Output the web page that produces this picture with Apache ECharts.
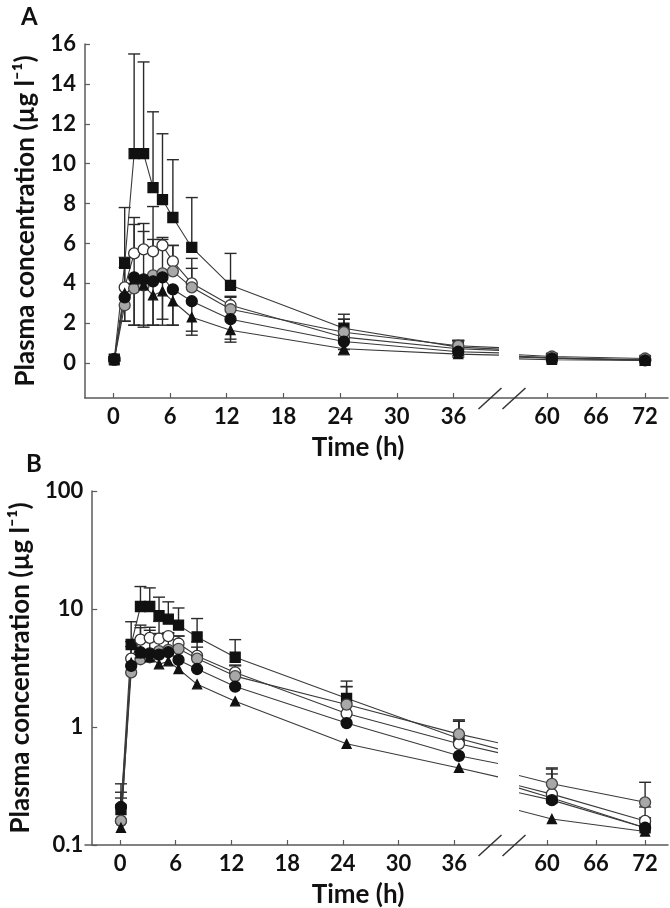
<!DOCTYPE html>
<html><head><meta charset="utf-8">
<script src="https://cdn.jsdelivr.net/npm/echarts@6/dist/echarts.min.js"></script>
<style>html,body{margin:0;padding:0;background:#fff}#c{width:670px;height:908px}</style>
</head><body><div id="c"></div>
<script>
// ---- data ----
const times = [0.1, 1.2, 2.2, 3.2, 4.2, 5.2, 6.3, 8.3, 12.4, 24.4, 36.5, 60.6, 72];
const xTicksLeft = [0, 6, 12, 18, 24, 30, 36];
const xTicksRight = [60, 66, 72];
const yTicksA = [0, 2, 4, 6, 8, 10, 12, 14, 16];
const yTicksB = [0.1, 1, 10, 100];

const squareMean = [0.2, 5.0, 10.5, 10.5, 8.8, 8.2, 7.3, 5.8, 3.9, 1.75, 0.8, 0.25, 0.14];
const squareSdUp = [0.08, 2.8, 5.0, 4.6, 3.8, 3.3, 2.9, 2.5, 1.6, 0.7, 0.35, 0.2, 0.03];
const openMean = [0.16, 3.8, 5.5, 5.7, 5.6, 5.9, 5.1, 4.0, 2.9, 1.3, 0.72, 0.27, 0.16];
const openSdUp = [0.09, 1.0, 1.8, 1.3, 2.25, 0.4, 0.8, 1.25, 0.45, 0.9, 0.4, 0.17, 0.05];
const grayMean = [0.16, 2.9, 3.75, 3.9, 4.4, 4.5, 4.6, 3.8, 2.7, 1.55, 0.87, 0.33, 0.23];
const graySdUp = [0.17, 2.4, 3.2, 2.7, 1.8, 1.7, 1.3, 0.95, 0.6, 0.65, 0.25, 0.07, 0.11];
const dotMean = [0.21, 3.3, 4.3, 4.2, 4.1, 4.3, 3.7, 3.1, 2.2, 1.08, 0.57, 0.24, 0.14];
const dotSdDown = [0.1, 1.2, 2.4, 2.3, 2.2, 2.1, 1.8, 1.5, 1.0, 0.4, 0.2, 0.08, 0.04];
const triMean = [0.14, 3.5, 4.2, 3.9, 3.4, 3.6, 3.1, 2.3, 1.65, 0.72, 0.45, 0.166, 0.13];
const triSdDown = [0.05, 1.4, 2.3, 2.1, 1.5, 1.7, 1.2, 0.9, 0.6, 0.3, 0.15, 0.06, 0.03];

const yTitle = 'Plasma concentration (\u00b5g l\u207b\u00b9)';
const xTitle = 'Time (h)';

// ---- styling ----
const FONT = 'Lato';
const INK = '#111';
const AXIS = '#5a5a5a';
const LINE = '#3a3a3a';

const groups = [
  {mean: squareMean, sd: squareSdUp, dir: 1, symbol: 'rect', size: 10, fill: '#111', border: '#111'},
  {mean: openMean, sd: openSdUp, dir: 1, symbol: 'circle', size: 11, fill: '#fff', border: '#333'},
  {mean: grayMean, sd: graySdUp, dir: 1, symbol: 'circle', size: 11, fill: '#a8a8a8', border: '#444'},
  {mean: dotMean, sd: dotSdDown, dir: -1, symbol: 'circle', size: 11, fill: '#111', border: '#111'},
  {mean: triMean, sd: triSdDown, dir: -1, symbol: 'triangle', size: 9, fill: '#111', border: '#111'}
];

const panels = [
  {top: 44, height: 354, type: 'value', min: -1.75, max: 16, ticks: yTicksA, downBars: true},
  {top: 491, height: 354, type: 'log', min: 0.1, max: 100, ticks: yTicksB, downBars: false}
];
const segs = [
  {left: 85, width: 412, min: -3, max: 40.6, ticks: xTicksLeft},
  {left: 520, width: 148, min: 56.7, max: 74.8, ticks: xTicksRight}
];

const labelStyle = {fontSize: 22, fontWeight: 'bold', fontFamily: FONT, color: INK};

const grid = [], xAxis = [], yAxis = [], series = [];

function errRender(params, api) {
  const x = api.value(0), m = api.value(1), sd = api.value(2), dir = api.value(3);
  const end = dir > 0 ? m + sd : m - sd;
  const p0 = api.coord([x, m]);
  const p1 = api.coord([x, end]);
  const w = 6;
  const st = {stroke: '#2a2a2a', lineWidth: 1.4};
  return {type: 'group', children: [
    {type: 'line', shape: {x1: p0[0], y1: p0[1], x2: p1[0], y2: p1[1]}, style: st},
    {type: 'line', shape: {x1: p1[0] - w, y1: p1[1], x2: p1[0] + w, y2: p1[1]}, style: st}
  ]};
}

panels.forEach((p, pi) => {
  // frame grid: continuous x axis line
  const fi = grid.length;
  grid.push({left: 85, top: p.top, width: 583, height: p.height});
  xAxis.push({gridIndex: fi, type: 'value', min: 0, max: 1,
    axisLine: {show: true, onZero: false, lineStyle: {color: AXIS, width: 1.5}},
    axisTick: {show: false}, axisLabel: {show: false}, splitLine: {show: false}});
  yAxis.push({gridIndex: fi, type: 'value', show: false, axisLine: {onZero: false}});

  segs.forEach((s, si) => {
    const gi = grid.length;
    grid.push({left: s.left, top: p.top, width: s.width, height: p.height});
    xAxis.push({gridIndex: gi, type: 'value', min: s.min, max: s.max,
      axisLine: {show: false, onZero: false},
      axisTick: {show: true, inside: true, length: 5, customValues: s.ticks, lineStyle: {color: AXIS, width: 1.2}},
      axisLabel: Object.assign({show: true, margin: 8, customValues: s.ticks}, labelStyle),
      splitLine: {show: false}});
    const ya = {gridIndex: gi, type: p.type, min: p.min, max: p.max,
      splitLine: {show: false}};
    if (p.type === 'log') ya.logBase = 10;
    if (si === 0) {
      Object.assign(ya, {
        axisLine: {show: true, onZero: false, lineStyle: {color: AXIS, width: 1.5}},
        axisTick: {show: true, inside: true, length: 5, customValues: p.ticks, lineStyle: {color: AXIS, width: 1.2}},
        axisLabel: Object.assign({show: true, margin: 9, customValues: p.ticks}, labelStyle),
        name: yTitle, nameLocation: 'middle', nameRotate: 90, nameGap: 46,
        nameTextStyle: {fontSize: 26, fontWeight: 'bold', fontFamily: FONT, color: INK}
      });
    } else {
      Object.assign(ya, {show: false, axisLine: {show: false, onZero: false}});
    }
    yAxis.push(ya);

    groups.forEach((g) => {
      series.push({
        type: 'line', xAxisIndex: gi, yAxisIndex: gi, clip: true,
        data: times.map((t, i) => [t, g.mean[i]]),
        symbol: g.symbol, symbolSize: g.size,
        lineStyle: {color: LINE, width: 1.1},
        itemStyle: {color: g.fill, borderColor: g.border, borderWidth: 1.3},
        z: 3, silent: true, animation: false
      });
      if (g.dir > 0 || p.downBars) {
        const ed = [];
        times.forEach((t, i) => {
          if (t >= s.min && t <= s.max) ed.push([t, g.mean[i], g.sd[i], g.dir]);
        });
        series.push({
          type: 'custom', xAxisIndex: gi, yAxisIndex: gi,
          renderItem: errRender, data: ed, z: 2, silent: true, animation: false
        });
      }
    });
  });
});

const chart = echarts.init(document.getElementById('c'), null, {renderer: 'canvas'});
chart.setOption({animation: false, backgroundColor: '#fff', grid, xAxis, yAxis, series});

// decorations: axis-break marks, x titles, panel letters
const graphic = [];
panels.forEach((p, pi) => {
  const leftGi = pi * 3 + 1, rightGi = pi * 3 + 2;
  const xEnd = chart.convertToPixel({xAxisIndex: leftGi}, segs[0].max);
  const xStart = chart.convertToPixel({xAxisIndex: rightGi}, segs[1].min);
  const yAx = p.top + p.height;
  [xEnd - 7, xStart - 6].forEach(cx => {
    graphic.push({type: 'line', shape: {x1: cx - 11.5, y1: yAx + 11, x2: cx + 11.5, y2: yAx - 10},
      style: {stroke: '#333', lineWidth: 1.5}, z: 10});
  });
  graphic.push({type: 'text', x: 358, y: yAx + 37,
    style: {text: xTitle, fontSize: 26, fontWeight: 'bold', fontFamily: FONT, fill: INK, align: 'center', verticalAlign: 'top'}});
});
graphic.push({type: 'text', x: 21, y: 5, style: {text: 'A', fontSize: 24, fontWeight: 'bold', fontFamily: FONT, fill: INK}});
graphic.push({type: 'text', x: 26, y: 452, style: {text: 'B', fontSize: 24, fontWeight: 'bold', fontFamily: FONT, fill: INK}});
chart.setOption({graphic});
</script>
</body></html>
